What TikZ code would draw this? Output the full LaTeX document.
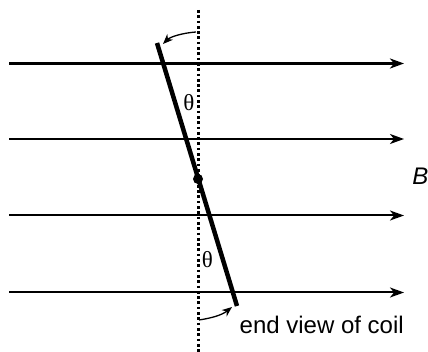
\documentclass[tikz,border=0pt]{standalone}
\usepackage{fontspec}
\setmainfont{Liberation Sans}
\newfontfamily\thetafont{Liberation Serif}
\usetikzlibrary{arrows.meta}
\begin{document}
\begin{tikzpicture}[x=1pt,y=-1pt,
  field/.style={line width=2pt,-{Stealth[length=14pt,width=10pt,inset=4pt]}},
  turn/.style={line width=1.3pt,-{Stealth[length=10pt,width=8pt,inset=3pt]}},
  lbl/.style={inner sep=0pt,font=\fontsize{24}{28}\selectfont},
  th/.style={inner sep=0pt,font=\thetafont\fontsize{23}{27}\selectfont}]
\useasboundingbox (0,0) rectangle (428,352);
% field lines
\coordinate (l1s) at (9,63.5);  \coordinate (l1e) at (404,63.5);
\coordinate (l2s) at (9,139);   \coordinate (l2e) at (404,139);
\coordinate (l3s) at (9,215.5); \coordinate (l3e) at (404,215.5);
\coordinate (l4s) at (9,292.5); \coordinate (l4e) at (404,292.5);
\draw[field,line width=3pt] (l1s) -- (l1e);
\draw[field] (l2s) -- (l2e);
\draw[field] (l3s) -- (l3e);
\draw[field] (l4s) -- (l4e);
% dotted axis
\coordinate (vtop) at (198,10); \coordinate (vbot) at (198,352);
\draw[line width=3pt,dash pattern=on 2.7pt off 2.6pt] (vtop) -- (vbot);
% coil
\coordinate (ctop) at (157,43); \coordinate (cbot) at (237,306);
\draw[line width=4.5pt] (ctop) -- (cbot);
\node[circle,fill,inner sep=0pt,minimum size=10pt] (ctr) at (198,179) {};
% rotation arrows
\coordinate (a1s) at (196,32); \coordinate (a1e) at (163,44);
\draw[turn] (a1s) .. controls (182,33) and (170,37) .. (a1e);
\coordinate (a2s) at (199,320); \coordinate (a2e) at (232,307);
\draw[turn] (a2s) .. controls (212,318) and (222,315) .. (a2e);
% labels
\node[th] (t1) at (189,102.5) {θ};
\node[th] (t2) at (207.5,259.5) {θ};
\node[lbl,anchor=base east] (B) at (427.5,184.3) {\itshape B\kern-1pt};
\node[lbl,anchor=base west] (coil) at (239.5,333.3) {end view of coil};
\end{tikzpicture}
\end{document}
